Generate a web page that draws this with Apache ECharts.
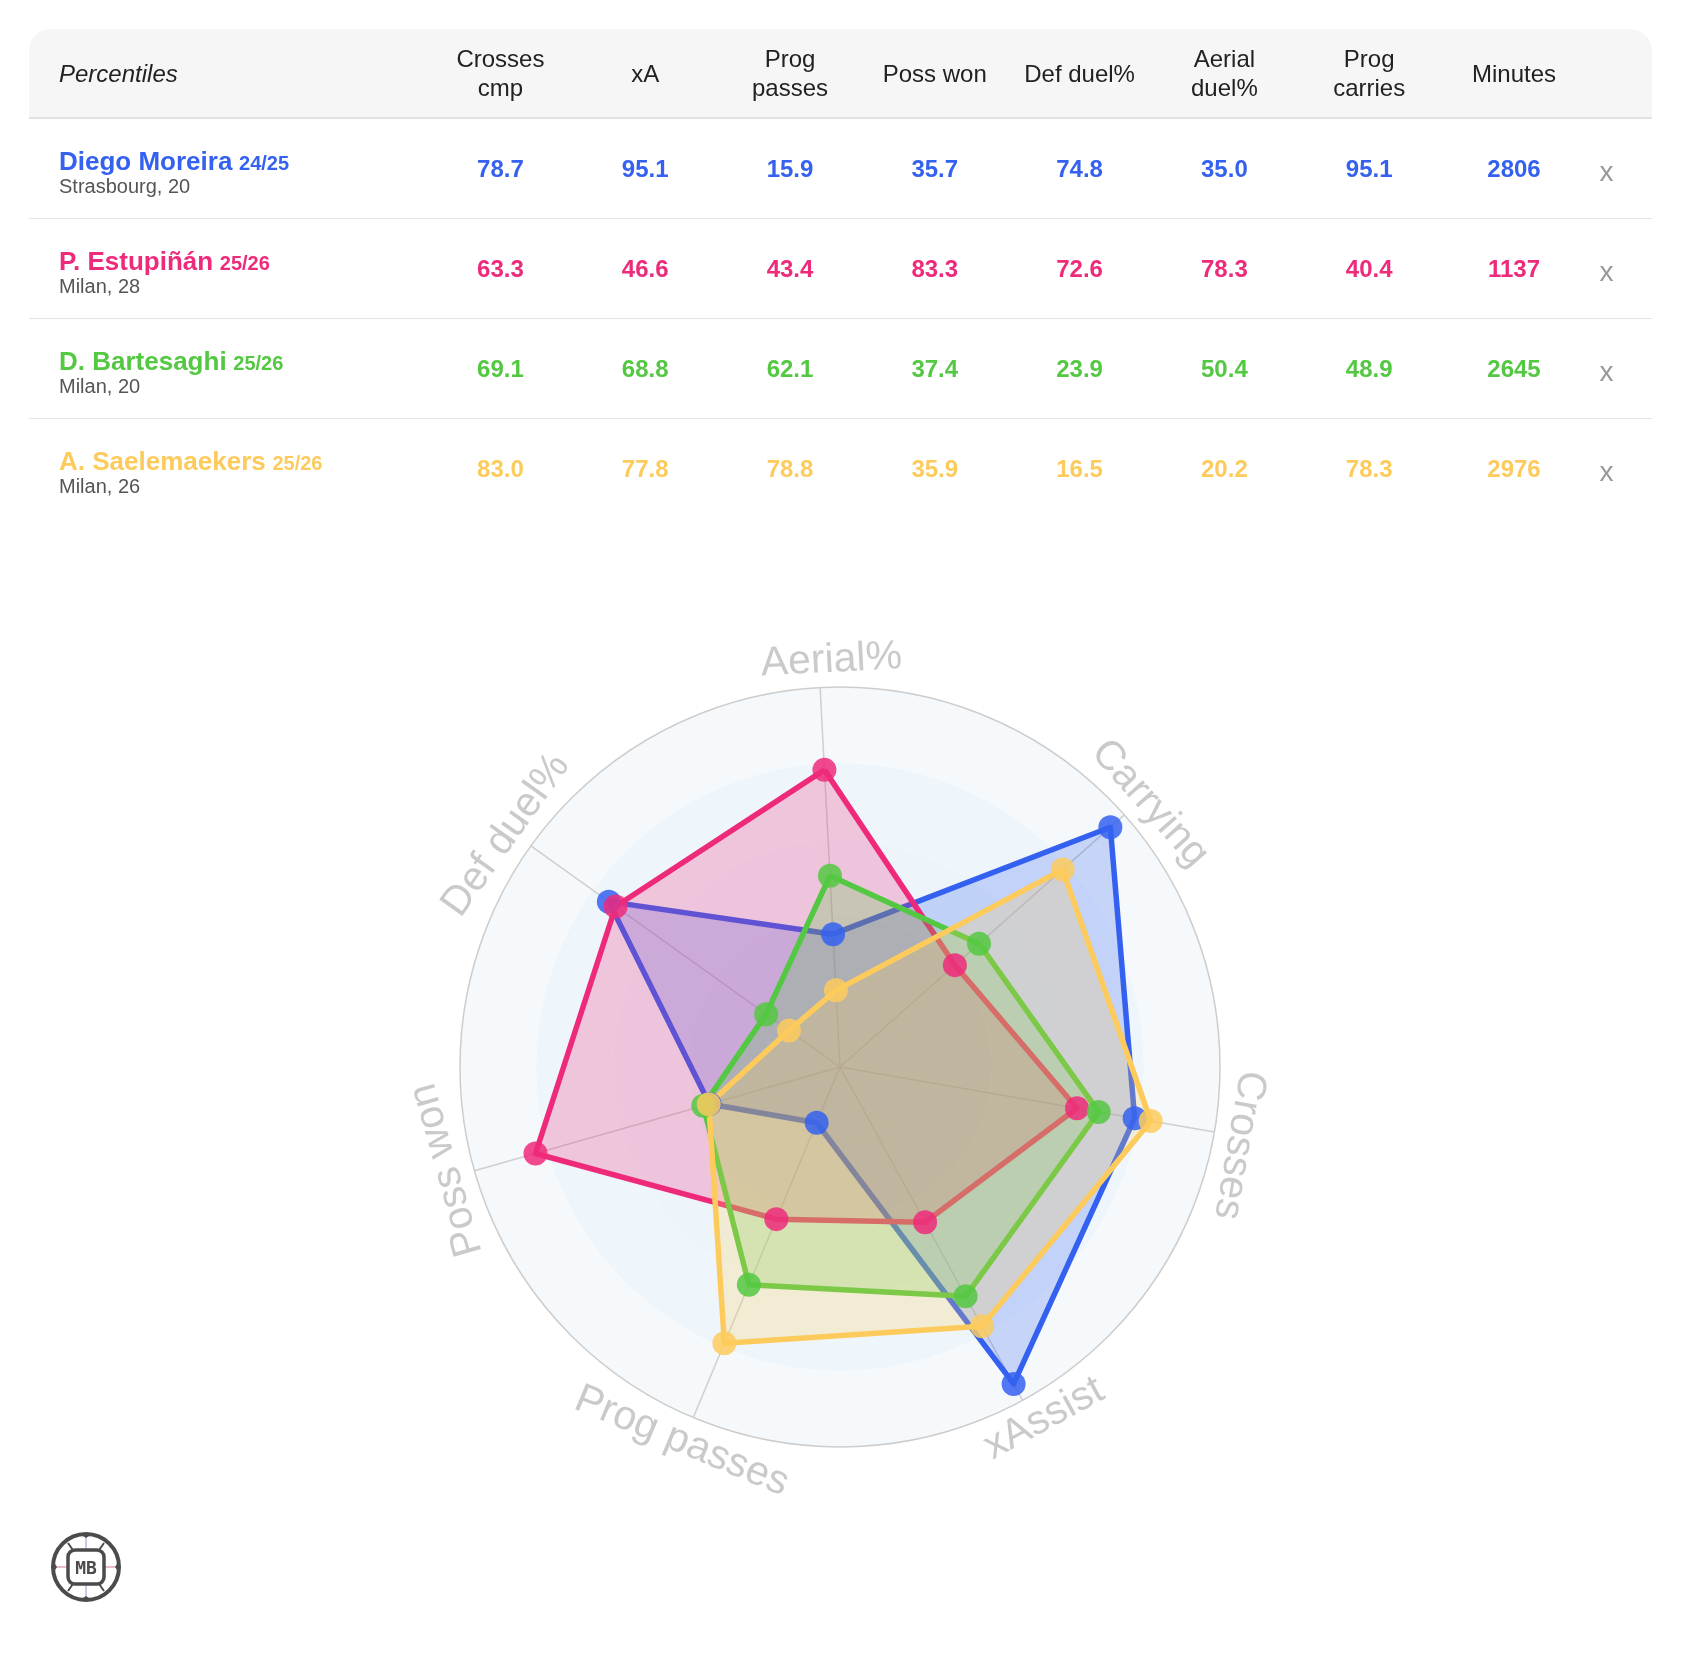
<!DOCTYPE html>
<html lang="en">
<head>
<meta charset="utf-8">
<title>Percentiles radar</title>
<script src="https://cdn.jsdelivr.net/npm/echarts@6/dist/echarts.min.js"></script>
<style>
  html, body { margin: 0; padding: 0; background: #fff; width: 1682px; height: 1670px; overflow: hidden; }
  body { font-family: "Liberation Sans", Arial, Helvetica, sans-serif; position: relative; }
  #main { position: absolute; left: 0; top: 0; width: 1682px; height: 1670px; }
  #card { position: absolute; left: 29px; top: 29px; width: 1623px; z-index: 2; }
  table { border-collapse: collapse; table-layout: fixed; width: 1623px; }
  thead tr { background: #f6f6f6; }
  thead th { height: 88px; padding: 0; font-weight: normal; font-size: 24px; line-height: 29px; color: #222; text-align: center; border-bottom: 2px solid #e2e2e2; }
  thead th:first-child { border-top-left-radius: 22px; text-align: left; padding-left: 30px; font-style: italic; }
  thead th:last-child { border-top-right-radius: 22px; }
  tbody td { height: 99px; text-align: center; font-weight: bold; font-size: 24px; border-bottom: 1.5px solid #e4e4e4; padding: 0; }
  tbody tr:last-child td { border-bottom: none; }
  td.name { text-align: left; padding-left: 30px; }
  td.name div.blk { position: relative; top: 3px; }
  .pn { font-size: 26px; font-weight: bold; line-height: 26px; }
  .ps { font-size: 20px; }
  .club { font-size: 20px; font-weight: normal; color: #555; line-height: 20px; }
  td.x { color: #999; font-weight: normal; font-size: 28px; text-align: left; padding-left: 13px; }
  td.x span { position: relative; top: 3px; }
  #logo { position: absolute; left: 48px; top: 1529px; z-index: 2; }
</style>
</head>
<body>
<div id="main"></div>
<div id="card"></div>
<svg id="logo" width="76" height="76" viewBox="0 0 76 76">
  <circle cx="38" cy="38" r="33" fill="#fff" stroke="#4b4b4b" stroke-width="4"/>
  <line x1="38" y1="6" x2="38" y2="70" stroke="#b8b8e0" stroke-width="1.5"/>
  <line x1="6" y1="38" x2="70" y2="38" stroke="#e6a3c4" stroke-width="1.5"/>
  <path d="M20 14 L27 24 M56 14 L49 24 M20 62 L27 52 M56 62 L49 52" stroke="#4b4b4b" stroke-width="2"/>
  <path d="M5 32 L9 38 L5 44 Z M71 32 L67 38 L71 44 Z M32 5 L38 9 L44 5 Z M32 71 L38 67 L44 71 Z" fill="#4b4b4b"/>
  <rect x="20" y="21" width="36" height="34" rx="7" fill="#fff" stroke="#4b4b4b" stroke-width="3.5"/>
  <text x="38" y="45" text-anchor="middle" font-family="DejaVu Sans Mono, monospace" font-weight="bold" font-size="18" fill="#4b4b4b">MB</text>
</svg>
<script type="text/javascript">
// players
var players = ['Diego Moreira', 'P. Estupiñán', 'D. Bartesaghi', 'A. Saelemaekers'];
var seasons = ['24/25', '25/26', '25/26', '25/26'];
var clubs = ['Strasbourg, 20', 'Milan, 28', 'Milan, 20', 'Milan, 26'];
var colors = ['#3461f0', '#ee2a7b', '#54c842', '#fdcb5c'];

// table columns (percentiles)
var columns = ['Crosses<br>cmp', 'xA', 'Prog<br>passes', 'Poss won', 'Def duel%', 'Aerial<br>duel%', 'Prog<br>carries'];
var moreira = [78.7, 95.1, 15.9, 35.7, 74.8, 35.0, 95.1];
var estupinan = [63.3, 46.6, 43.4, 83.3, 72.6, 78.3, 40.4];
var bartesaghi = [69.1, 68.8, 62.1, 37.4, 23.9, 50.4, 48.9];
var saelemaekers = [83.0, 77.8, 78.8, 35.9, 16.5, 20.2, 78.3];
var minutes = [2806, 1137, 2645, 2976];
var values = [moreira, estupinan, bartesaghi, saelemaekers];

// radar axes, counter-clockwise from the top, and which table column each uses
var radarNames = ['Aerial%', 'Def duel%', 'Poss won', 'Prog passes', 'xAssist', 'Crosses', 'Carrying'];
var radarCols = [5, 4, 3, 2, 1, 0, 6];

// ---- table
var html = '<table><colgroup><col style="width:399px">';
for (var c = 0; c < 8; c++) html += '<col style="width:144.8px">';
html += '<col></colgroup><thead><tr><th>Percentiles</th>';
columns.forEach(function (h) { html += '<th>' + h + '</th>'; });
html += '<th>Minutes</th><th></th></tr></thead><tbody>';
players.forEach(function (p, i) {
    html += '<tr style="color:' + colors[i] + '"><td class="name"><div class="blk"><span class="pn">' + p +
        '</span> <span class="ps">' + seasons[i] + '</span><div class="club">' + clubs[i] + '</div></div></td>';
    values[i].forEach(function (v) { html += '<td>' + v.toFixed(1) + '</td>'; });
    html += '<td>' + minutes[i] + '</td><td class="x"><span>x</span></td></tr>';
});
html += '</tbody></table>';
document.getElementById('card').innerHTML = html;

// ---- radar
var myChart = echarts.init(document.getElementById('main'));
var startAngle = 93;
var center = [840, 1067];

var radarSeries = players.map(function (p, i) {
    return {
        name: p,
        type: 'radar',
        symbol: 'circle',
        symbolSize: 24,
        lineStyle: { width: 5.5, color: colors[i] },
        itemStyle: { color: colors[i], opacity: 0.85 },
        areaStyle: { color: colors[i], opacity: 0.24 },
        data: [{ value: radarCols.map(function (k) { return values[i][k]; }) }]
    };
});

// axis names: scatter on a polar system laid over the radar, so they can turn with the circle
var nameNudge = [-1.8, 0.8, -1.2, -0.2, 1.4, -1.2, -1.2];   // small angular shifts, degrees
var nameData = radarNames.map(function (n, i) {
    var a = i * 360 / 7;
    var theta = (startAngle + a) % 360;
    var flip = Math.sin(theta * Math.PI / 180) < -0.5;
    var rot = flip ? theta - 270 : theta - 90;
    return { value: [107, a + nameNudge[i]], name: n, label: { rotate: rot } };
});

var clear = 'rgba(0,0,0,0)';
var option = {
    animation: false,
    radar: {
        center: center,
        radius: 380,
        startAngle: startAngle,
        shape: 'circle',
        splitNumber: 5,
        indicator: radarNames.map(function (n) { return { name: n, min: 0, max: 100 }; }),
        axisName: { show: false },
        axisLine: { lineStyle: { color: '#cfcfcf', width: 1.5 } },
        splitLine: { lineStyle: { color: [clear, clear, clear, clear, clear, '#cdcdcd'], width: 1.5 } },
        splitArea: { areaStyle: { color: ['#e9f2f9', '#ebf3f9', '#edf5fa', '#eff6fb', '#f5f9fc'] } }
    },
    polar: { center: center, radius: 456 },
    angleAxis: {
        type: 'value', min: 0, max: 360, startAngle: startAngle, clockwise: false,
        axisLine: { show: false }, axisTick: { show: false }, axisLabel: { show: false }, splitLine: { show: false }
    },
    radiusAxis: {
        min: 0, max: 120,
        axisLine: { show: false }, axisTick: { show: false }, axisLabel: { show: false }, splitLine: { show: false }
    },
    series: radarSeries.concat([{
        type: 'scatter',
        coordinateSystem: 'polar',
        symbolSize: 1,
        itemStyle: { color: clear },
        silent: true,
        label: {
            show: true,
            position: 'inside',
            formatter: '{b}',
            color: '#bdbdbd',
            fontSize: 41,
            fontFamily: 'Liberation Sans, Arial, sans-serif'
        },
        data: nameData
    }])
};
myChart.setOption(option);
</script>
</body>
</html>
